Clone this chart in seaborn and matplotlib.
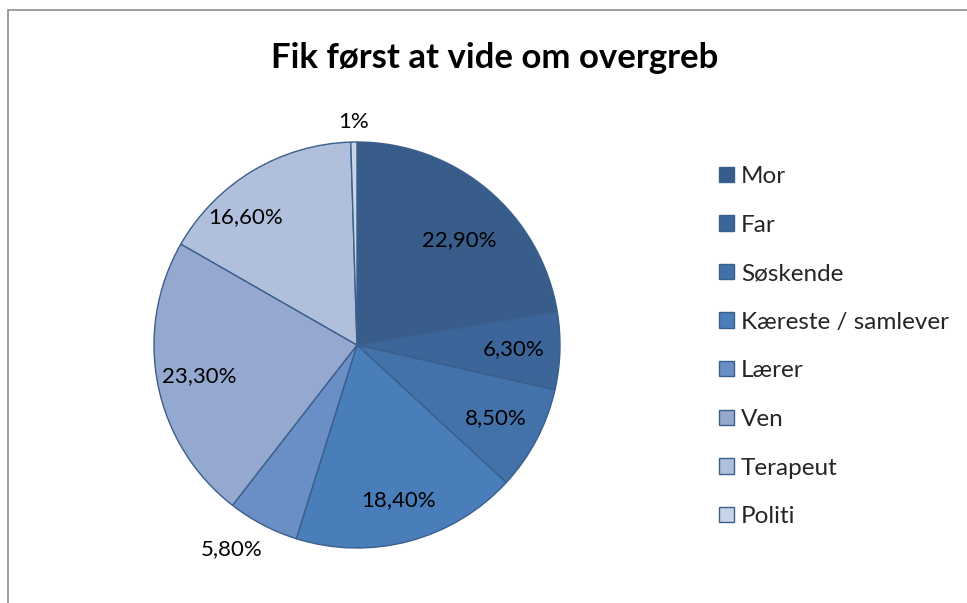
import matplotlib
matplotlib.use("Agg")
import numpy as np
import matplotlib.pyplot as plt
import seaborn as sns
from matplotlib.patches import Rectangle

sns.set_theme(style="white")
plt.rcParams['font.family'] = ['Lato', 'DejaVu Sans']

categories = ["Mor", "Far", "Søskende", "Kæreste / samlever", "Lærer", "Ven", "Terapeut", "Politi"]
values = [22.9, 6.3, 8.5, 18.4, 5.8, 23.3, 16.6, 0.5]
value_labels = ["22,90%", "6,30%", "8,50%", "18,40%", "5,80%", "23,30%", "16,60%", "1%"]
colors = ["#385D8A", "#3C659A", "#4371AA", "#4A7EBB", "#6A8FC7", "#95A9D0", "#B0BFDC", "#CAD4E8"]
# label placement: radial distance and angular nudge (deg) per slice
label_dist = [0.72, 0.77, 0.77, 0.79, 1.18, 0.79, 0.835, 1.10]
label_turn = [-4, 0, 0, 0, -4, 0, 10, 0]

fig = plt.figure(figsize=(9.67, 6.03), dpi=100)
W, H = 967, 603

# chart frame
fig.patches.append(Rectangle((8 / W, -0.1), 1.2, (H - 10) / H + 0.1, transform=fig.transFigure,
                             fill=False, edgecolor="#8c8c8c", linewidth=1.2))

# pie centred at (357, 345) px, radius ~203 px
lim = 1.2
r_px = 203
size = 2 * lim * r_px
cx, cy = 357, H - 345
ax = fig.add_axes([(cx - size / 2) / W, (cy - size / 2) / H, size / W, size / H])
wedges, texts = ax.pie(values, labels=value_labels, colors=colors, startangle=90, counterclock=False,
                       wedgeprops=dict(edgecolor="#3A5F8B", linewidth=1.0),
                       textprops=dict(fontsize=16, color="black"), labeldistance=0.78)
for t, w, d, turn in zip(texts, wedges, label_dist, label_turn):
    ang = np.deg2rad((w.theta1 + w.theta2) / 2 + turn)
    t.set_position((d * np.cos(ang), d * np.sin(ang)))
    t.set_ha("center")
    t.set_va("center")
ax.set_xlim(-lim, lim)
ax.set_ylim(-lim, lim)
ax.set_aspect("equal")
ax.axis("off")

fig.text(495 / W, 1 - 58 / H, "Fik først at vide om overgreb", ha="center", va="center",
         fontsize=25, fontweight="bold", color="black")

fig.legend(wedges, categories, loc="upper left", bbox_to_anchor=(719 / W, 1 - 166 / H),
           frameon=False, fontsize=17.5, handlelength=0.6, handleheight=0.6,
           handletextpad=0.3, labelspacing=1.135, borderpad=0, borderaxespad=0)

fig.savefig("out.png", dpi=100)
